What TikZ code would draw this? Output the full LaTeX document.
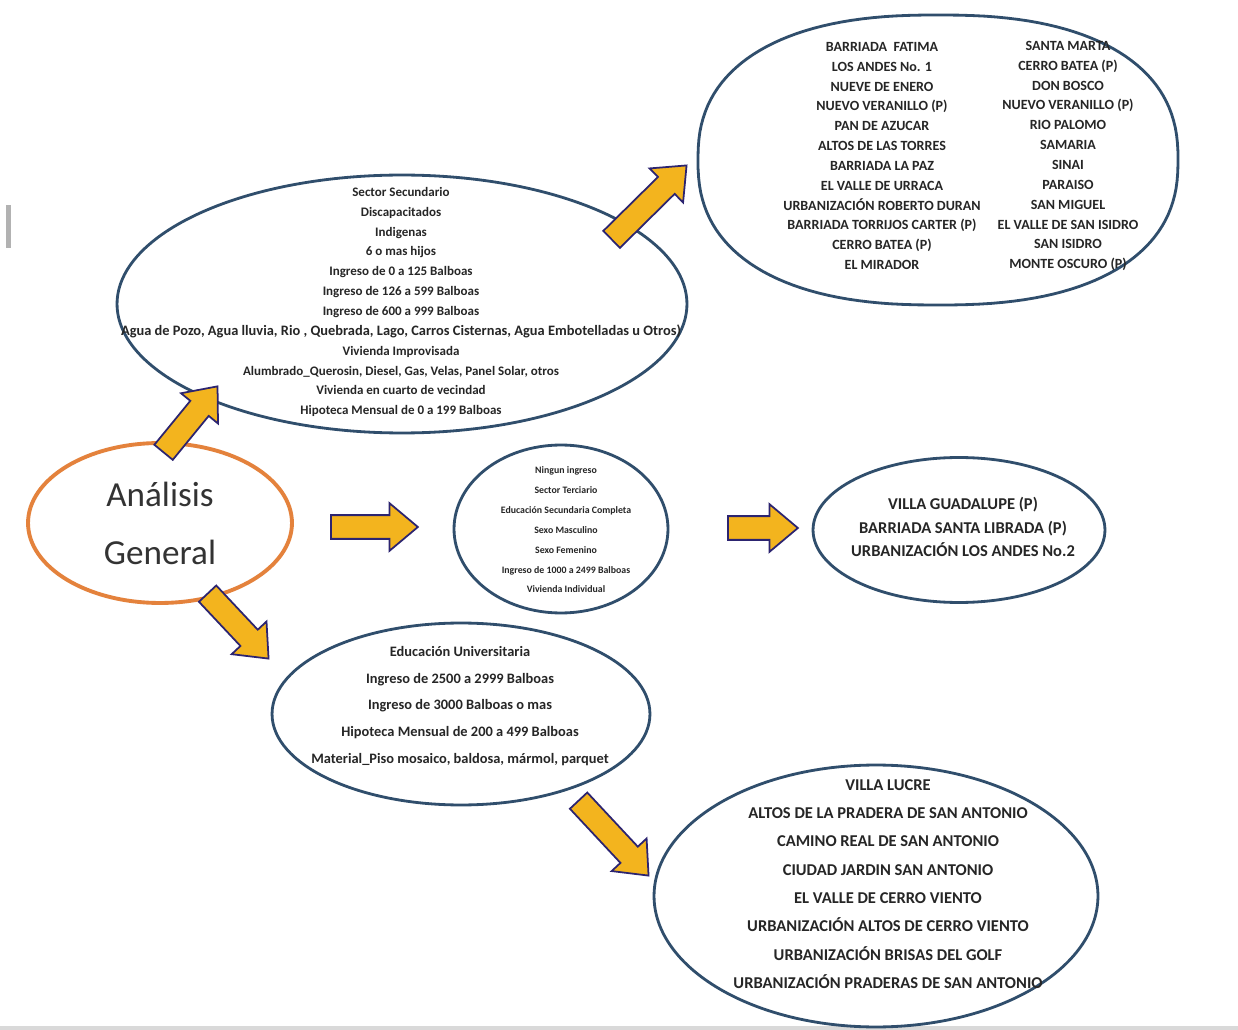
\documentclass[tikz,border=0pt]{standalone}
\usepackage{fontspec}
\setmainfont{Carlito}
\usetikzlibrary{shapes.geometric,shapes.arrows,calc}
\definecolor{borde}{RGB}{48,78,108}
\definecolor{naranja}{RGB}{228,130,60}
\definecolor{ambar}{RGB}{243,180,30}
\definecolor{morado}{RGB}{44,36,112}
\tikzset{
  contorno/.style={draw=borde, line width=1.6pt},
  grupo/.style={contorno, ellipse, inner sep=0pt},
  lista/.style={align=center, inner sep=0pt, text=black!85},
  flechabloque/.style={single arrow, draw=morado, fill=ambar, line width=1pt,
    inner xsep=0pt, inner ysep=0.22cm, minimum width=0pt,
    single arrow head extend=0.24cm, single arrow tip angle=80},
  flecha/.style={to path={let \p1=(\tikztostart), \p2=(\tikztotarget),
    \n1={atan2(\y2-\y1,\x2-\x1)}, \n2={veclen(\x2-\x1,\y2-\y1)} in
    (\p1) node[flechabloque, rotate=\n1, minimum height=\n2, anchor=tail, name=#1] {}}},
}

\begin{document}
\begin{tikzpicture}[x=0.02cm, y=-0.02cm]
  \path[use as bounding box, fill=white] (0,0) rectangle (1238,1030);
  \fill[gray!60] (6,205) rectangle (11,248);
  \fill[gray!30] (0,1026) rectangle (1238,1030);

  % elipses
  \node[ellipse, inner sep=0pt, minimum width=9.6cm, minimum height=5.8cm] (barriosA) at (938,160) {};
  \draw[contorno] plot[domain=0.5:360.5, samples=145, variable=\t]
    ({938+240*sign(cos(\t))*abs(cos(\t))^(2/2.4)}, {160+145*sign(sin(\t))*abs(sin(\t))^(2/2.4)}) -- cycle;
  \node[grupo, minimum width=11.4cm, minimum height=5.16cm] (grupoA) at (402,304) {};
  \node[draw=naranja, line width=2.2pt, ellipse, inner sep=0pt, minimum width=5.28cm,
    minimum height=3.2cm, align=center, text=black!80,
    font=\fontsize{20}{33}\selectfont] (analisis) at (160,523) {Análisis\\General};
  \node[grupo, minimum width=4.28cm, minimum height=3.36cm] (grupoB) at (561,529) {};
  \node[grupo, minimum width=5.84cm, minimum height=2.9cm] (barriosB) at (959,530) {};
  \node[grupo, minimum width=7.56cm, minimum height=3.64cm] (grupoC) at (461,714) {};
  \node[grupo, minimum width=8.88cm, minimum height=5.24cm] (barriosC) at (876,896) {};

  % textos
  \node[lista, font=\bfseries\fontsize{8}{11.3}\selectfont] (txtBarriosA1) at (882,156)
    {BARRIADA~~FATIMA\\LOS ANDES No. 1\\NUEVE DE ENERO\\NUEVO VERANILLO (P)\\PAN DE AZUCAR\\ALTOS DE LAS TORRES\\BARRIADA LA PAZ\\EL VALLE DE URRACA\\URBANIZACIÓN ROBERTO DURAN\\BARRIADA TORRIJOS CARTER (P)\\CERRO BATEA (P)\\EL MIRADOR};
  \node[lista, font=\bfseries\fontsize{8}{11.3}\selectfont] (txtBarriosA2) at (1068,156)
    {SANTA MARTA\\CERRO BATEA (P)\\DON BOSCO\\NUEVO VERANILLO (P)\\RIO PALOMO\\SAMARIA\\SINAI\\PARAISO\\SAN MIGUEL\\EL VALLE DE SAN ISIDRO\\SAN ISIDRO\\MONTE OSCURO (P)};
  \node[lista, font=\bfseries\fontsize{7.4}{11.3}\selectfont] (txtGrupoA) at (401,302)
    {Sector Secundario\\Discapacitados\\Indigenas\\6 o mas hijos\\Ingreso de 0 a 125 Balboas\\Ingreso de 126 a 599 Balboas\\Ingreso de 600 a 999 Balboas\\{\fontsize{8.2}{11.3}\selectfont Agua de Pozo, Agua lluvia, Rio , Quebrada, Lago, Carros Cisternas, Agua Embotelladas u Otros)}\\Vivienda Improvisada\\Alumbrado\_Querosin, Diesel, Gas, Velas, Panel Solar, otros\\Vivienda en cuarto de vecindad\\Hipoteca Mensual de 0 a 199 Balboas};
  \node[lista, font=\bfseries\fontsize{5.6}{11.3}\selectfont] (txtGrupoB) at (566,530)
    {Ningun ingreso\\Sector Terciario\\Educación Secundaria Completa\\Sexo Masculino\\Sexo Femenino\\Ingreso de 1000 a 2499 Balboas\\Vivienda Individual};
  \node[lista, font=\bfseries\fontsize{9.4}{13.6}\selectfont] (txtBarriosB) at (963,527)
    {VILLA GUADALUPE (P)\\BARRIADA SANTA LIBRADA (P)\\URBANIZACIÓN LOS ANDES No.2};
  \node[lista, font=\bfseries\fontsize{8.2}{15.3}\selectfont] (txtGrupoC) at (460,706)
    {Educación Universitaria\\Ingreso de 2500 a 2999 Balboas\\Ingreso de 3000 Balboas o mas\\Hipoteca Mensual de 200 a 499 Balboas\\Material\_Piso mosaico, baldosa, mármol, parquet};
  \node[lista, font=\bfseries\fontsize{9.4}{16.1}\selectfont] (txtBarriosC) at (888,884)
    {VILLA LUCRE\\ALTOS DE LA PRADERA DE SAN ANTONIO\\CAMINO REAL DE SAN ANTONIO\\CIUDAD JARDIN SAN ANTONIO\\EL VALLE DE CERRO VIENTO\\URBANIZACIÓN ALTOS DE CERRO VIENTO\\URBANIZACIÓN BRISAS DEL GOLF\\URBANIZACIÓN PRADERAS DE SAN ANTONIO};

  % flechas
  \coordinate (f1a) at (163,453); \coordinate (f1b) at (217,387);
  \coordinate (f2a) at (611,240); \coordinate (f2b) at (686,166);
  \coordinate (f3a) at (330,527); \coordinate (f3b) at (417,527);
  \coordinate (f4a) at (727,528); \coordinate (f4b) at (797,528);
  \coordinate (f5a) at (207,593); \coordinate (f5b) at (268,658);
  \coordinate (f6a) at (578,800); \coordinate (f6b) at (648,875);
  \path (f1a) to[flecha=f1] (f1b);
  \path (f2a) to[flecha=f2] (f2b);
  \path (f3a) to[flecha=f3] (f3b);
  \path (f4a) to[flecha=f4] (f4b);
  \path (f5a) to[flecha=f5] (f5b);
  \path (f6a) to[flecha=f6] (f6b);
\end{tikzpicture}
\end{document}
